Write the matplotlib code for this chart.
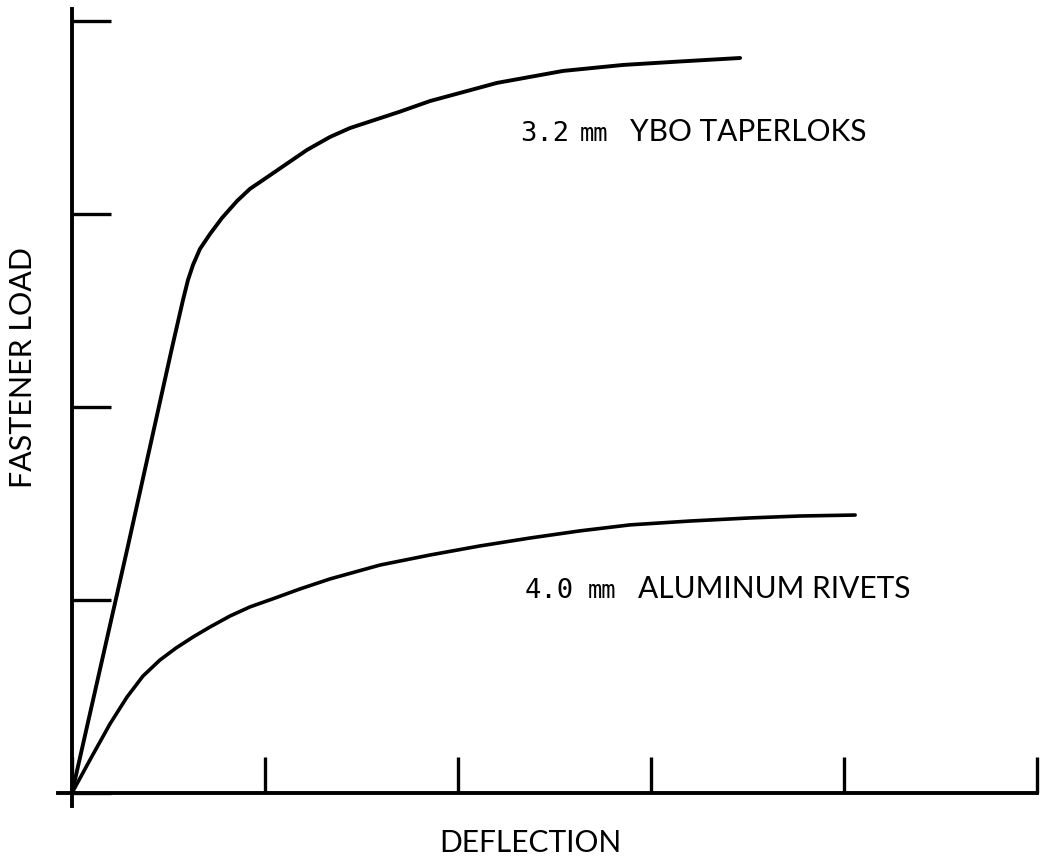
import matplotlib
matplotlib.use("Agg")
import matplotlib.pyplot as plt

# curve readings (deflection, load) in tick units
taperlok_x = [0, 0.29, 0.518, 0.575, 0.601, 0.627, 0.663, 0.715, 0.777, 0.855,
              0.922, 0.990, 1.104, 1.218, 1.337, 1.440, 1.699, 1.855, 2.202,
              2.544, 2.855, 3.150, 3.461]
taperlok_y = [0, 1.28, 2.306, 2.554, 2.658, 2.736, 2.819, 2.896, 2.979, 3.067,
              3.130, 3.176, 3.254, 3.332, 3.399, 3.445, 3.530, 3.585, 3.679,
              3.741, 3.772, 3.790, 3.808]

rivet_x = [0, 0.093, 0.197, 0.285, 0.368, 0.456, 0.539, 0.627, 0.715, 0.819,
           0.922, 1.052, 1.181, 1.337, 1.596, 1.855, 2.114, 2.373, 2.632,
           2.891, 3.202, 3.513, 3.772, 4.057]
rivet_y = [0, 0.171, 0.358, 0.497, 0.606, 0.689, 0.751, 0.808, 0.860, 0.917,
           0.964, 1.010, 1.057, 1.109, 1.181, 1.233, 1.280, 1.321, 1.358,
           1.389, 1.409, 1.425, 1.435, 1.440]

x_ticks = [0, 1, 2, 3, 4, 5]
y_ticks = [0, 1, 2, 3, 4]

font = "Lato"
mono = "DejaVu Sans Mono"

fig = plt.figure(figsize=(10.41, 8.6), dpi=100)
ax = fig.add_axes([0.0506, 0.0555, 0.955, 0.9426])
ax.set_xlim(-0.1, 5.05)
ax.set_ylim(-0.1, 4.1)

ax.plot(taperlok_x, taperlok_y, color="black", lw=2.8,
        solid_capstyle="round", solid_joinstyle="round")
ax.plot(rivet_x, rivet_y, color="black", lw=2.6,
        solid_capstyle="round", solid_joinstyle="round")

# axes drawn as spines crossing at the origin
for side in ["top", "right"]:
    ax.spines[side].set_visible(False)
ax.spines["left"].set_position(("data", 0))
ax.spines["bottom"].set_position(("data", 0))
ax.spines["left"].set_bounds(-0.07, 4.06)
ax.spines["bottom"].set_bounds(-0.07, 5.0)
ax.spines["left"].set_linewidth(2.8)
ax.spines["bottom"].set_linewidth(2.8)

ax.set_xticks(x_ticks)
ax.set_yticks(y_ticks)
ax.set_xticklabels([])
ax.set_yticklabels([])
ax.tick_params(axis="x", direction="in", length=26, width=2.4)
ax.tick_params(axis="y", direction="in", length=28, width=2.4)

# curve labels
ax.text(2.321, 3.378, "3.2", fontsize=19.5, family=mono, va="baseline")
ax.text(2.632, 3.378, "mm", fontsize=17, family=mono, va="baseline")
ax.text(2.891, 3.378, "YBO TAPERLOKS", fontsize=21.5, family=font, va="baseline")

ax.text(2.347, 1.010, "4.0", fontsize=19.5, family=mono, va="baseline")
ax.text(2.674, 1.010, "mm", fontsize=17, family=mono, va="baseline")
ax.text(2.933, 1.010, "ALUMINUM RIVETS", fontsize=21.5, family=font, va="baseline")

fig.text(530 / 1041, 1 - 843 / 860, "DEFLECTION", fontsize=21.5, family=font,
         ha="center", va="center")
fig.text(23 / 1041, 1 - 367 / 860, "FASTENER LOAD", fontsize=22, family=font,
         ha="center", va="center", rotation=90)

fig.savefig("out.png", dpi=100)
